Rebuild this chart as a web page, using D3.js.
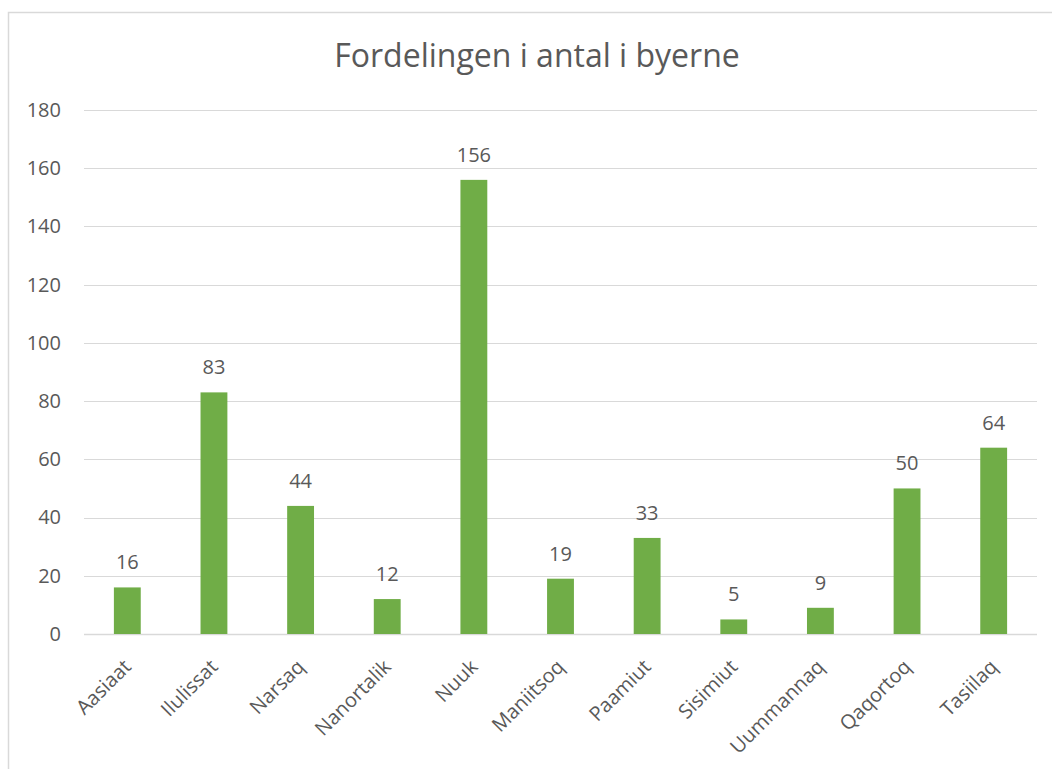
<!DOCTYPE html>
<html>
<head>
<meta charset="utf-8">
<script src="https://cdn.jsdelivr.net/npm/d3@7"></script>
<style>
  body { margin: 0; background: #fff; }
  text { font-family: "Open Sans", sans-serif; fill: #595959; }
</style>
</head>
<body>
<div id="chart"></div>
<script>
var cities = ["Aasiaat", "Ilulissat", "Narsaq", "Nanortalik", "Nuuk", "Maniitsoq",
              "Paamiut", "Sisimiut", "Uummannaq", "Qaqortoq", "Tasiilaq"];
var counts = [16, 83, 44, 12, 156, 19, 33, 5, 9, 50, 64];
var yTicks = [0, 20, 40, 60, 80, 100, 120, 140, 160, 180];

var W = 1052, H = 769;
var margin = {top: 110, right: 15, bottom: 135, left: 84};

var svg = d3.select("#chart").append("svg")
  .attr("width", W)
  .attr("height", H);

// chart frame
svg.append("rect")
  .attr("x", 8.5).attr("y", 12.5)
  .attr("width", W + 10).attr("height", H + 10)
  .attr("fill", "none")
  .attr("stroke", "#d9d9d9")
  .attr("stroke-width", 1.5);

var x = d3.scaleBand()
  .domain(cities)
  .range([margin.left, W - margin.right])
  .paddingInner(0.69)
  .paddingOuter(0.345);

var y = d3.scaleLinear()
  .domain([0, 180])
  .range([H - margin.bottom, margin.top]);

// gridlines
svg.append("g")
  .selectAll("line")
  .data(yTicks)
  .enter().append("line")
  .attr("x1", margin.left)
  .attr("x2", W - margin.right)
  .attr("y1", function(d){ return Math.round(y(d)) + 0.5 })
  .attr("y2", function(d){ return Math.round(y(d)) + 0.5 })
  .attr("stroke", "#d9d9d9")
  .attr("stroke-width", function(d){ return d == 0 ? 1.5 : 1.2 });

// y axis labels
var yAxis = d3.axisLeft(y).tickValues(yTicks).tickSize(0).tickPadding(23);
svg.append("g")
  .attr("transform", "translate(" + margin.left + ",0)")
  .call(yAxis)
  .call(function(g){ g.select(".domain").remove() })
  .selectAll("text")
  .style("font-size", "20px")
  .attr("fill", "#595959");

// bars
svg.append("g")
  .selectAll("rect")
  .data(counts)
  .enter().append("rect")
  .attr("x", function(d, i){ return x(cities[i]) })
  .attr("y", function(d){ return y(d) })
  .attr("width", x.bandwidth())
  .attr("height", function(d){ return y(0) - y(d) })
  .attr("fill", "#70ad47");

// data labels
svg.append("g")
  .selectAll("text")
  .data(counts)
  .enter().append("text")
  .attr("x", function(d, i){ return x(cities[i]) + x.bandwidth() / 2 })
  .attr("y", function(d){ return y(d) - 18 })
  .attr("text-anchor", "middle")
  .style("font-size", "20px")
  .text(function(d){ return d });

// x axis labels
var xAxis = d3.axisBottom(x).tickSize(0).tickPadding(0);
svg.append("g")
  .attr("transform", "translate(0," + y(0) + ")")
  .call(xAxis)
  .call(function(g){ g.select(".domain").remove() })
  .selectAll("text")
  .style("font-size", "20px")
  .attr("fill", "#595959")
  .attr("text-anchor", "end")
  .attr("y", 0)
  .attr("dy", 0)
  .attr("transform", "translate(5,34) rotate(-45)");

// title
svg.append("text")
  .attr("x", 537)
  .attr("y", 67)
  .attr("text-anchor", "middle")
  .style("font-size", "32px")
  .text("Fordelingen i antal i byerne");
</script>
</body>
</html>
